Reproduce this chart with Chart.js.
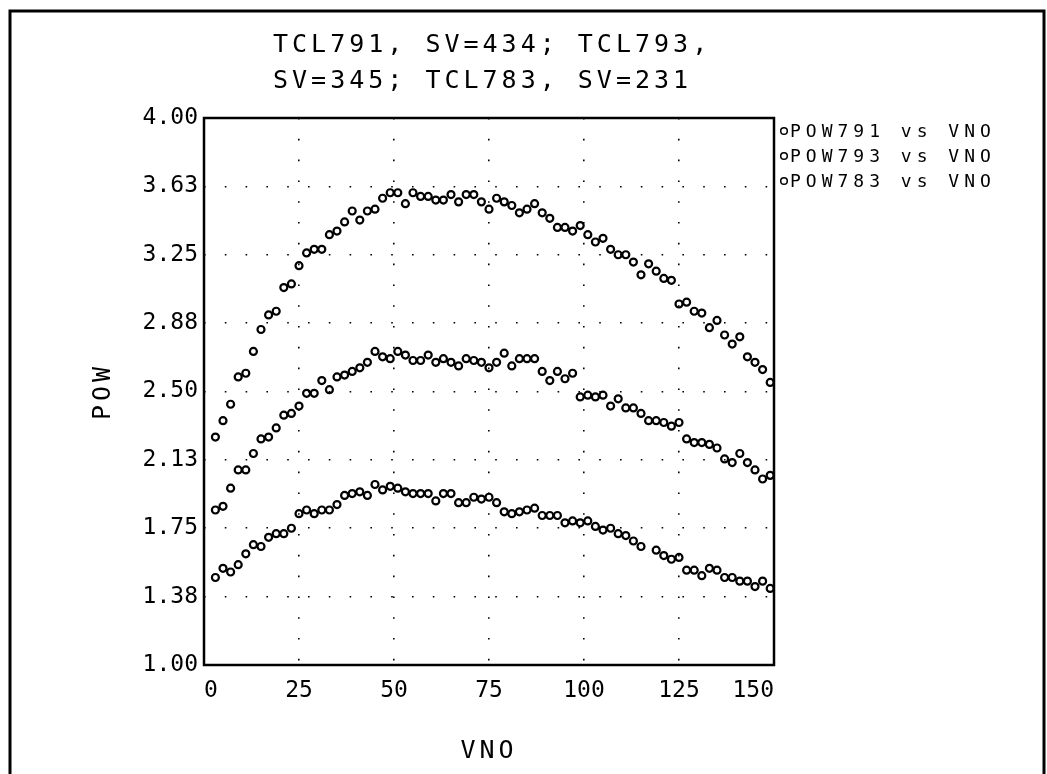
<!DOCTYPE html>
<html>
<head>
<meta charset="utf-8">
<title>POW vs VNO</title>
<script src="https://cdn.jsdelivr.net/npm/chart.js@4.4.0/dist/chart.umd.min.js"></script>
<style>
  html, body { margin: 0; padding: 0; background: #fff; }
  canvas { display: block; }
</style>
</head>
<body>
<canvas id="chartPOW" width="1047" height="774"></canvas>
<script>
// ---------------------- DATA ---------------------------

const titleLines = ["TCL791, SV=434; TCL793,", "SV=345; TCL783, SV=231"];
const xTitle = "VNO";
const yTitle = "POW";
const seriesLabels = ["POW791 vs VNO", "POW793 vs VNO", "POW783 vs VNO"];

// VNO (x-axeln)
const vno = [3, 5, 7, 9, 11, 13, 15, 17, 19, 21, 23, 25, 27, 29, 31, 33, 35, 37, 39, 41, 43, 45, 47, 49,
  51, 53, 55, 57, 59, 61, 63, 65, 67, 69, 71, 73, 75, 77,
  79, 81, 83, 85, 87, 89, 91, 93, 95, 97,
  99, 101, 103, 105, 107, 109, 111, 113, 115, 117,
  119, 121, 123, 125, 127, 129, 131, 133, 135, 137,
  139, 141, 143, 145, 147, 149];

const pow791 = [2.25, 2.34, 2.43, 2.58, 2.60, 2.72, 2.84, 2.92, 2.94, 3.07, 3.09, 3.19, 3.26, 3.28, 3.28, 3.36, 3.38, 3.43, 3.49, 3.44, 3.49, 3.50, 3.56, 3.59,
  3.59, 3.53, 3.59, 3.57, 3.57, 3.55, 3.55, 3.58, 3.54, 3.58, 3.58, 3.54, 3.50, 3.56,
  3.54, 3.52, 3.48, 3.50, 3.53, 3.48, 3.45, 3.40, 3.40, 3.38,
  3.41, 3.36, 3.32, 3.34, 3.28, 3.25, 3.25, 3.21, 3.14, 3.20,
  3.16, 3.12, 3.11, 2.98, 2.99, 2.94, 2.93, 2.85, 2.89, 2.81,
  2.76, 2.80, 2.69, 2.66, 2.62, 2.55];

const pow793 = [1.85, 1.87, 1.97, 2.07, 2.07, 2.16, 2.24, 2.25, 2.30, 2.37, 2.38, 2.42, 2.49, 2.49, 2.56, 2.51, 2.58, 2.59, 2.61, 2.63, 2.66, 2.72, 2.69, 2.68,
  2.72, 2.70, 2.67, 2.67, 2.70, 2.66, 2.68, 2.66, 2.64, 2.68, 2.67, 2.66, 2.63, 2.66,
  2.71, 2.64, 2.68, 2.68, 2.68, 2.61, 2.56, 2.61, 2.57, 2.60,
  2.47, 2.48, 2.47, 2.48, 2.42, 2.46, 2.41, 2.41, 2.38, 2.34,
  2.34, 2.33, 2.31, 2.33, 2.24, 2.22, 2.22, 2.21, 2.19, 2.13,
  2.11, 2.16, 2.11, 2.07, 2.02, 2.04];

const pow783 = [1.48, 1.53, 1.51, 1.55, 1.61, 1.66, 1.65, 1.70, 1.72, 1.72, 1.75, 1.83, 1.85, 1.83, 1.85, 1.85, 1.88, 1.93, 1.94, 1.95, 1.93, 1.99, 1.96, 1.98,
  1.97, 1.95, 1.94, 1.94, 1.94, 1.90, 1.94, 1.94, 1.89, 1.89, 1.92, 1.91, 1.92, 1.89,
  1.84, 1.83, 1.84, 1.85, 1.86, 1.82, 1.82, 1.82, 1.78, 1.79,
  1.78, 1.79, 1.76, 1.74, 1.75, 1.72, 1.71, 1.68, 1.65, null,
  1.63, 1.60, 1.58, 1.59, 1.52, 1.52, 1.49, 1.53, 1.52, 1.48,
  1.48, 1.46, 1.46, 1.43, 1.46, 1.42];

// Axlar
const xMin = 0, xMax = 150, xStep = 25;
const yMin = 1.0, yMax = 4.0, yStep = 0.375;

// ---------------------- CHART ---------------------------

const toPoints = (ys) => vno.map((x, i) => ({ x: x, y: ys[i] }));

const datasets = [pow791, pow793, pow783].map((ys, i) => ({
  label: seriesLabels[i],
  data: toPoints(ys),
  pointStyle: "circle",
  pointRadius: 3.5,
  pointBorderWidth: 2.2,
  borderColor: "#000",
  pointBorderColor: "#000",
  pointBackgroundColor: "transparent",
  showLine: false,
}));

const mono = "'DejaVu Sans Mono', 'Liberation Mono', monospace";

// Ram, titel, axeltitlar och legend ritas själva (plotter-stil med extra teckenavstånd)
const plotterPlugin = {
  id: "plotter",
  beforeDraw(chart) {
    const ctx = chart.ctx;
    ctx.save();
    ctx.fillStyle = "#fff";
    ctx.fillRect(0, 0, chart.width, chart.height);
    ctx.strokeStyle = "#000";
    ctx.lineWidth = 3;
    ctx.beginPath();
    ctx.moveTo(10, chart.height + 5);
    ctx.lineTo(10, 11);
    ctx.lineTo(1044, 11);
    ctx.lineTo(1044, chart.height + 5);
    ctx.stroke();
    ctx.restore();
  },
  afterDatasetsDraw(chart) {
    const ctx = chart.ctx;
    const a = chart.chartArea;
    ctx.save();
    ctx.strokeStyle = "#000";
    ctx.fillStyle = "#000";
    ctx.lineWidth = 2.5;
    ctx.strokeRect(a.left, a.top, a.right - a.left, a.bottom - a.top);

    // titel
    ctx.font = "25px " + mono;
    ctx.letterSpacing = "4px";
    ctx.textAlign = "left";
    ctx.textBaseline = "alphabetic";
    titleLines.forEach((t, i) => ctx.fillText(t, 273, 52 + i * 36));

    // axeltitlar
    ctx.textAlign = "center";
    ctx.fillText(xTitle, (a.left + a.right) / 2, 758);
    ctx.save();
    ctx.translate(110, (a.top + a.bottom) / 2);
    ctx.rotate(-Math.PI / 2);
    ctx.fillText(yTitle, 0, 0);
    ctx.restore();

    // legend
    ctx.font = "18px " + mono;
    ctx.letterSpacing = "5px";
    ctx.textAlign = "left";
    ctx.textBaseline = "middle";
    ctx.lineWidth = 1.5;
    chart.data.datasets.forEach((ds, i) => {
      const y = 131 + i * 25;
      ctx.beginPath();
      ctx.arc(784, y, 3.3, 0, Math.PI * 2);
      ctx.stroke();
      ctx.fillText(ds.label, 790, y + 1);
    });
    ctx.restore();
  },
};

// Prickat rutnät (i v4 styrs strecken av border.dash)
const gridOpts = {
  color: "#000",
  lineWidth: 1.6,
  drawTicks: false,
};
const borderOpts = {
  display: false,
  dash: [1.6, 19.2],
};

const config = {
  type: "scatter",
  data: { datasets },
  options: {
    responsive: false,
    animation: false,
    layout: {
      padding: { top: 118, right: 273, left: 0, bottom: 0 },
    },
    plugins: {
      legend: { display: false },
      title: { display: false },
      tooltip: { enabled: false },
    },
    scales: {
      x: {
        type: "linear",
        min: xMin,
        max: xMax,
        border: borderOpts,
        afterFit: (scale) => { scale.height = 109; },
        grid: gridOpts,
        ticks: {
          stepSize: xStep,
          align: "inner",
          padding: 12,
          color: "#000",
          maxRotation: 0,
          font: { family: mono, size: 23 },
        },
      },
      y: {
        type: "linear",
        min: yMin,
        max: yMax,
        border: borderOpts,
        afterFit: (scale) => { scale.width = 204; },
        grid: gridOpts,
        ticks: {
          stepSize: yStep,
          padding: 6,
          color: "#000",
          font: { family: mono, size: 23 },
          callback: (value) => value.toFixed(2),
        },
      },
    },
  },
  plugins: [plotterPlugin],
};

const canvas = document.getElementById("chartPOW");
const myChart = new Chart(canvas, config);
</script>
</body>
</html>
